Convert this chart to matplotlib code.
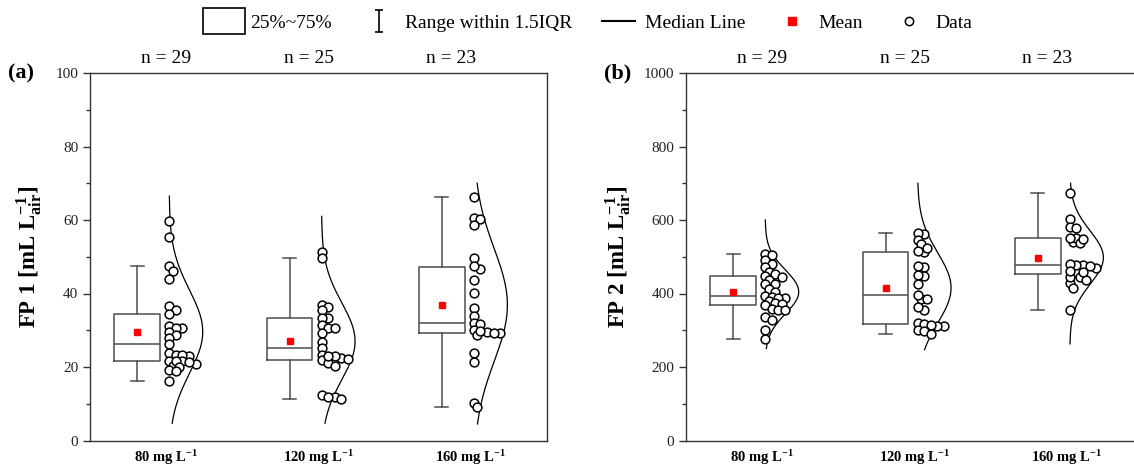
import numpy as np
import matplotlib
matplotlib.use("Agg")
import matplotlib.pyplot as plt
from matplotlib.lines import Line2D
from matplotlib.patches import Patch, Rectangle
from matplotlib.path import Path
from matplotlib.legend_handler import HandlerPatch
from matplotlib.ticker import MultipleLocator

plt.rcParams['font.family'] = ['Liberation Serif', 'DejaVu Serif']
plt.rcParams['mathtext.fontset'] = 'custom'
plt.rcParams['mathtext.rm'] = 'Liberation Serif'
plt.rcParams['mathtext.bf'] = 'Liberation Serif:bold'
plt.rcParams['mathtext.it'] = 'Liberation Serif:italic'

# ---------------------------------------------------------------
# data
# ---------------------------------------------------------------
groups = ['80 mg L$^{\\mathbf{-1}}$', '120 mg L$^{\\mathbf{-1}}$', '160 mg L$^{\\mathbf{-1}}$']

fp1_80 = [59.8, 55.4, 47.5, 46.1, 43.9, 36.6, 35.6, 34.3, 31.1, 30.6, 30.6, 29.5, 28.6, 27.9, 26.2,
          23.9, 23.0, 23.4, 23.3, 21.7, 21.5, 20.3, 20.9, 21.3, 21.5, 20.0, 19.1, 18.9, 16.1]
fp1_120 = [51.3, 49.7, 37.0, 36.3, 35.4, 33.4, 33.4, 31.3, 30.6, 30.6, 29.2, 26.8, 25.3,
           22.5, 23.4, 22.3, 21.8, 23.0, 21.2, 20.4, 23.0, 11.8, 12.3, 11.2, 11.8]
fp1_160 = [66.3, 60.6, 60.4, 58.6, 49.7, 46.8, 47.5, 43.6, 40.2, 36.1, 33.8, 32.0, 31.7,
           29.5, 30.0, 28.6, 29.3, 29.3, 29.9, 23.8, 21.3, 10.2, 9.1]

fp2_80 = [507, 504, 490, 481, 472, 459, 454, 448, 436, 427, 425, 411, 404, 392, 391,
          388, 388, 380, 374, 371, 368, 359, 356, 354, 336, 329, 302, 277, 446]
fp2_120 = [563, 565, 545, 534, 513, 525, 516, 471, 475, 447, 449, 427, 386, 397, 386,
           356, 362, 311, 321, 318, 311, 302, 313, 298, 291]
fp2_160 = [674, 604, 581, 579, 540, 551, 538, 549, 551, 469, 459, 477, 474, 477, 479,
           445, 436, 429, 445, 459, 462, 416, 356]

# value range over which the normal curve is drawn
fp1_curve = [(4.7, 66.5), (4.7, 61.0), (4.5, 70.0)]
fp2_curve = [(250, 600), (247, 700), (263, 700)]

panels = [
    dict(data=[fp1_80, fp1_120, fp1_160], curve=fp1_curve, ylim=(0, 100), major=20, minor=10,
         ylabel='FP 1 [mL L$_{\\mathbf{air}}^{\\mathbf{-1}}$]', tag='(a)', left=90),
    dict(data=[fp2_80, fp2_120, fp2_160], curve=fp2_curve, ylim=(0, 1000), major=200, minor=100,
         ylabel='FP 2 [mL L$_{\\mathbf{air}}^{\\mathbf{-1}}$]', tag='(b)', left=686),
]

W, H = 1134, 467
fig = plt.figure(figsize=(W / 100, H / 100), dpi=100)

pos = np.arange(1, 4)
box_shift = -0.19
box_w = 0.30
pt_shift = 0.02
curve_w = 0.22
n_pos = [1.0, 1.94, 2.87]
grey = '#4d4d4d'
spine_c = '#333333'


def swarm(vals, ppx, ppy, dmin=5.2, step=3.3):
    # one-sided beeswarm, offsets in pixels
    order = np.argsort(vals)[::-1]
    placed = []
    offs = np.zeros(len(vals))
    for i in order:
        y = vals[i] * ppy
        k = 0
        while any((k * step - px) ** 2 + (y - py) ** 2 < dmin ** 2 for px, py in placed):
            k += 1
        placed.append((k * step, y))
        offs[i] = k * step
    return offs


for p in panels:
    ax = fig.add_axes([p['left'] / W, 1 - 440.5 / H, 457 / W, (440.5 - 73) / H])
    ax.set_xlim(0.5, 3.5)
    ax.set_ylim(*p['ylim'])
    ppx = 457 / 3.0
    ppy = (440.5 - 73) / (p['ylim'][1] - p['ylim'][0])

    ax.boxplot(p['data'], positions=pos + box_shift, widths=box_w, showfliers=False,
               showmeans=True, capwidths=0.085, patch_artist=False,
               boxprops=dict(color=grey, lw=1.1),
               whiskerprops=dict(color=grey, lw=1.1),
               capprops=dict(color=grey, lw=1.1),
               medianprops=dict(color=grey, lw=1.1),
               meanprops=dict(marker='s', markerfacecolor='red', markeredgecolor='red',
                              markersize=5))

    for i, vals in enumerate(p['data']):
        vals = np.array(vals, dtype=float)
        offs = swarm(vals, ppx, ppy)
        ax.scatter(pos[i] + pt_shift + offs / ppx, vals, s=40, facecolor='white',
                   edgecolor='black', lw=1.1, zorder=3)
        # normal distribution curve
        mu, sd = vals.mean(), vals.std(ddof=1)
        yy = np.linspace(p['curve'][i][0], p['curve'][i][1], 200)
        dens = np.exp(-0.5 * ((yy - mu) / sd) ** 2)
        ax.plot(pos[i] + pt_shift + curve_w * dens, yy, color='black', lw=0.9)
        ax.annotate(f'n = {len(vals)}', xy=(n_pos[i], 1.0), xycoords=('data', 'axes fraction'),
                    xytext=(0, 4), textcoords='offset points', ha='center', va='bottom',
                    fontsize=14)

    ax.set_xticks(pos)
    ax.set_xticklabels(groups, fontsize=10.5, fontweight='bold')
    ax.tick_params(axis='x', length=0, pad=5.5)
    ax.yaxis.set_major_locator(MultipleLocator(p['major']))
    ax.yaxis.set_minor_locator(MultipleLocator(p['minor']))
    ax.tick_params(axis='y', which='major', direction='out', length=5, width=1.0,
                   labelsize=11, colors=spine_c)
    ax.tick_params(axis='y', which='minor', direction='out', length=3, width=1.0, colors=spine_c)
    ax.tick_params(axis='y', labelcolor='#222222')
    for s in ax.spines.values():
        s.set_color(spine_c)
        s.set_linewidth(1.0)
    ax.set_ylabel(p['ylabel'], fontsize=16.5, fontweight='bold', labelpad=8)
    fig.text((p['left'] - 82) / W, 1 - 73 / H, p['tag'], fontsize=16, fontweight='bold',
             ha='left', va='center')


# legend ---------------------------------------------------------
def box_patch(legend, orig_handle, xdescent, ydescent, width, height, fontsize):
    return Rectangle((-xdescent - 0.15 * width, -ydescent - 0.45 * height),
                     width * 1.3, height * 1.9)


ibeam = Path([(-0.35, 1), (0.35, 1), (0, 1), (0, -1), (-0.35, -1), (0.35, -1)],
             [Path.MOVETO, Path.LINETO, Path.MOVETO, Path.LINETO, Path.MOVETO, Path.LINETO])

h_box = Patch(facecolor='white', edgecolor='black', lw=1.2)
h_rng = Line2D([], [], ls='none', marker=ibeam, markersize=16, markeredgecolor='black',
               markerfacecolor='none', mew=1.2)
h_med = Line2D([], [], color='black', lw=1.5)
h_mean = Line2D([], [], ls='none', marker='s', markersize=6, color='red')
h_dat = Line2D([], [], ls='none', marker='o', markersize=6, markerfacecolor='white',
               markeredgecolor='black', mew=1.1)

fig.legend([h_box, h_rng, h_med, h_mean, h_dat],
           ['25%~75%', 'Range within 1.5IQR', 'Median Line', 'Mean', 'Data'],
           loc='center', bbox_to_anchor=(590 / W, 1 - 23 / H), ncol=5, frameon=False,
           fontsize=14, handlelength=1.7, handletextpad=0.5, columnspacing=1.55,
           handler_map={h_box: HandlerPatch(patch_func=box_patch)})

fig.savefig('out.png', dpi=100)
